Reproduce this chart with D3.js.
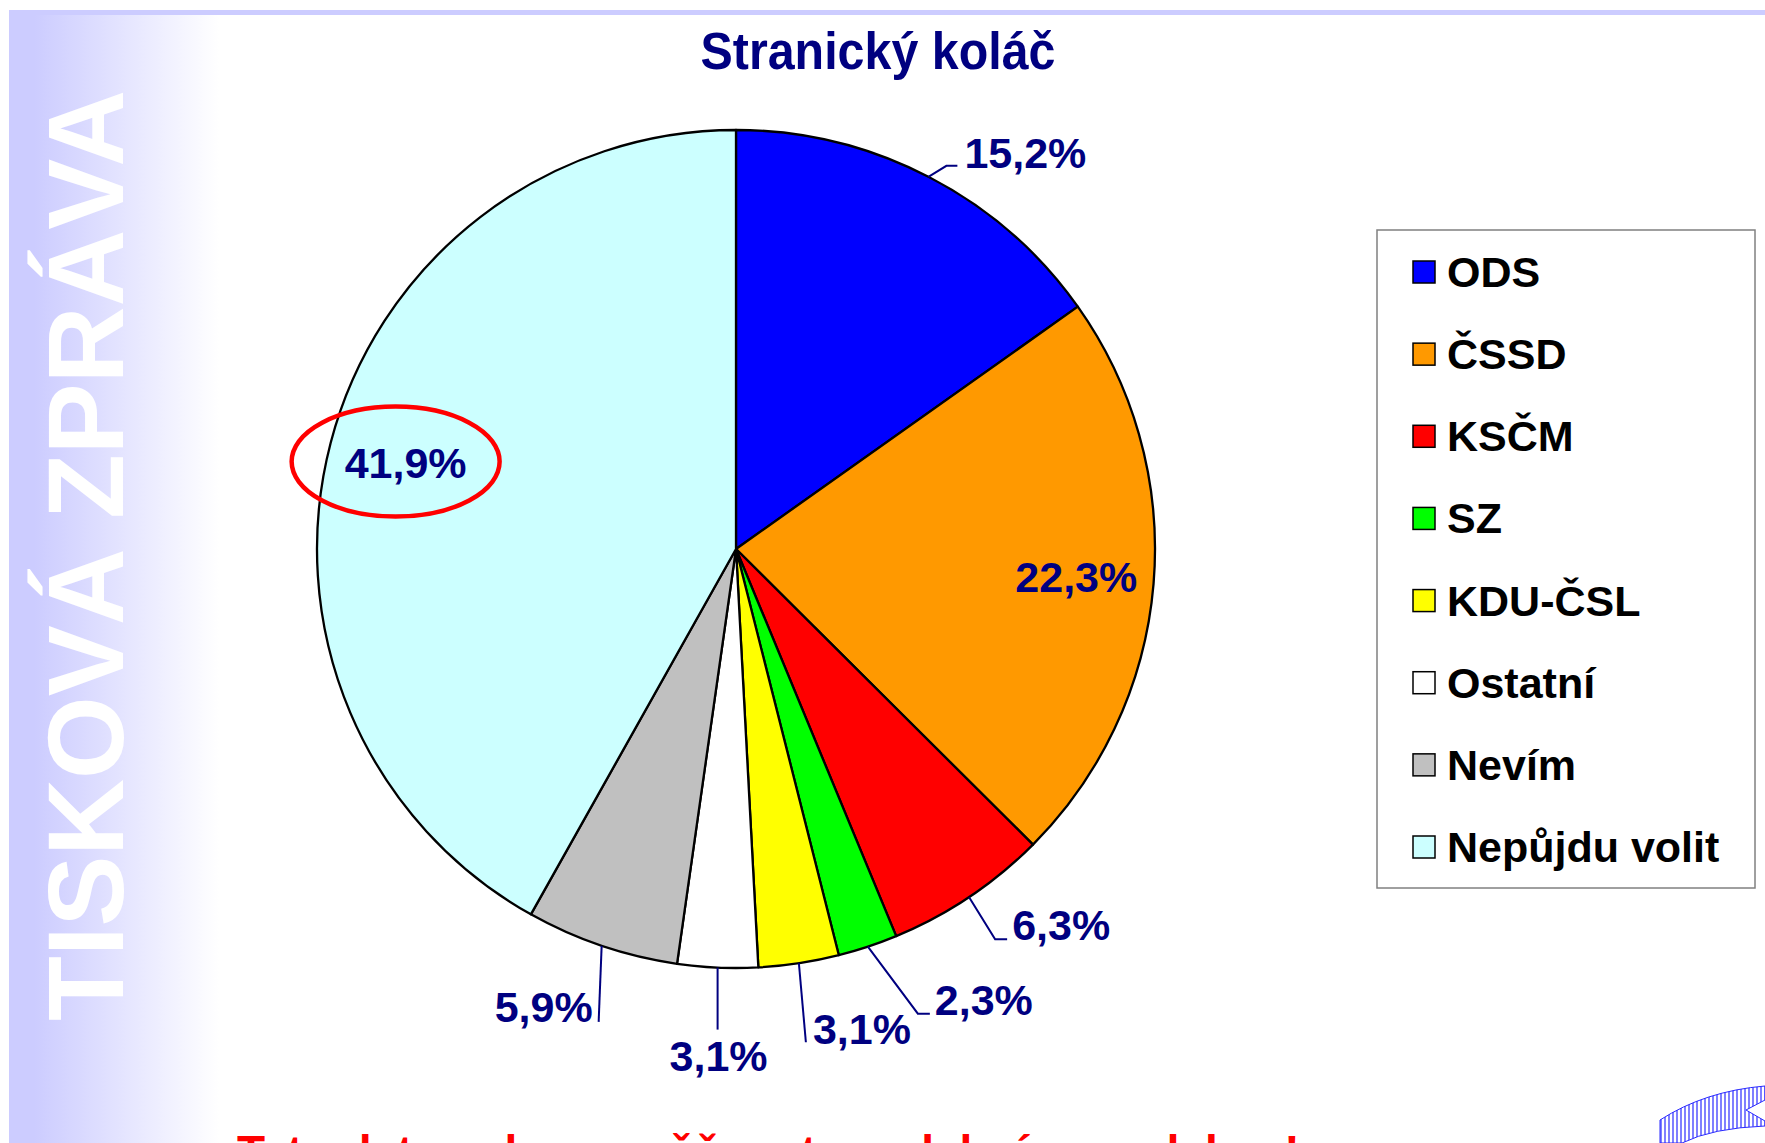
<!DOCTYPE html>
<html>
<head>
<meta charset="utf-8">
<script src="https://cdn.jsdelivr.net/npm/d3@7"></script>
<style>
  html, body { margin: 0; padding: 0; background: #fff; overflow: hidden; }
  text { font-family: "Liberation Sans", Arial, sans-serif; font-weight: bold; }
</style>
</head>
<body>
<svg id="chart"></svg>
<script>
var parties = ['ODS', 'ČSSD', 'KSČM', 'SZ', 'KDU-ČSL', 'Ostatní', 'Nevím', 'Nepůjdu volit'];
var shares = [15.2, 22.3, 6.3, 2.3, 3.1, 3.1, 5.9, 41.9];
var partyColors = ['#0000ff', '#ff9900', '#ff0000', '#00ff00', '#ffff00', '#ffffff', '#c0c0c0', '#ccffff'];
var chartTitle = 'Stranický koláč';
var sideText = 'TISKOVÁ ZPRÁVA';
var noteText = 'Tato data nelze zaměňovat s volebním modelem!';

// how each slice label is placed (offsets from the slice's point on the rim)
var labelLayout = [
    {mode: 'leader', elbow: [18, -11], tail: 11, anchor: 'start', dx: 7, dy: 2},
    {mode: 'inside'},
    {mode: 'leader', elbow: [26, 42], tail: 12, anchor: 'start', dx: 5, dy: 1},
    {mode: 'leader', elbow: [50, 67], tail: 12, anchor: 'start', dx: 5, dy: 1},
    {mode: 'leader', elbow: [7, 79], tail: 0, anchor: 'start', dx: 7, dy: 2},
    {mode: 'leader', elbow: [0, 62], tail: 0, anchor: 'middle', dx: 1, dy: 41},
    {mode: 'leader', elbow: [-3, 76], tail: 0, anchor: 'end', dx: -6, dy: 0},
    {mode: 'inside', ring: true}
];

var W = 1765, H = 1143;
var cx = 736, cy = 549, radius = 419;
var navy = '#000080';

var svg = d3.select('#chart').attr('width', W).attr('height', H);

// background decoration
var defs = svg.append('defs');
var grad = defs.append('linearGradient').attr('id', 'sideGrad')
    .attr('x1', 0).attr('x2', 1).attr('y1', 0).attr('y2', 0);
grad.append('stop').attr('offset', '0%').attr('stop-color', '#ccccff');
grad.append('stop').attr('offset', '12%').attr('stop-color', '#ccccff');
grad.append('stop').attr('offset', '100%').attr('stop-color', '#ffffff');

var pat = defs.append('pattern').attr('id', 'stripes')
    .attr('width', 4).attr('height', 10).attr('patternUnits', 'userSpaceOnUse');
pat.append('rect').attr('width', 4).attr('height', 10).attr('fill', '#fff');
pat.append('line').attr('x1', 1).attr('x2', 1).attr('y1', 0).attr('y2', 10)
    .attr('stroke', '#2a2aff').attr('stroke-width', 1.2);

svg.append('rect').attr('x', 9).attr('y', 10).attr('width', W - 9).attr('height', 5).attr('fill', '#ccccff');
svg.append('rect').attr('x', 9).attr('y', 15).attr('width', 210).attr('height', H - 15).attr('fill', 'url(#sideGrad)');

svg.append('text')
    .attr('transform', 'translate(123,1021) rotate(-90)')
    .attr('font-size', 107)
    .attr('textLength', 931)
    .attr('lengthAdjust', 'spacingAndGlyphs')
    .attr('fill', '#fff')
    .text(sideText);

// logo fragment, bottom right
svg.append('path')
    .attr('d', 'M1660,1143 L1660,1120 Q1705,1091 1765,1086 L1765,1100 L1746,1110 L1765,1121 L1765,1126 Q1712,1128 1682,1143 Z')
    .attr('fill', 'url(#stripes)')
    .attr('stroke', '#2a2aff').attr('stroke-width', 1);

// title
svg.append('text')
    .attr('x', 878).attr('y', 69)
    .attr('text-anchor', 'middle')
    .attr('font-size', 51)
    .attr('textLength', 355)
    .attr('lengthAdjust', 'spacingAndGlyphs')
    .attr('fill', navy)
    .text(chartTitle);

// pie
var data = parties.map(function(p, i) { return {name: p, value: shares[i], color: partyColors[i], layout: labelLayout[i]}; });
var pie = d3.pie().sort(null).value(function(d) { return d.value; });
var arcs = pie(data);
var arc = d3.arc().innerRadius(0).outerRadius(radius);

var g = svg.append('g').attr('transform', 'translate(' + cx + ',' + cy + ')');

g.selectAll('.slice')
    .data(arcs)
    .enter().append('path')
    .attr('class', 'slice')
    .attr('d', arc)
    .attr('fill', function(d) { return d.data.color; })
    .attr('stroke', '#000')
    .attr('stroke-width', 2.3)
    .attr('stroke-linejoin', 'round');

var fmt = function(v) { return d3.format('.1f')(v).replace('.', ',') + '%'; };

arcs.forEach(function(a) {
    var lay = a.data.layout;
    var mid = (a.startAngle + a.endAngle) / 2;
    if (lay.mode === 'inside') {
        var r2 = radius * 0.815;
        var px = r2 * Math.sin(mid), py = -r2 * Math.cos(mid);
        g.append('text')
            .attr('x', px).attr('y', py + 15)
            .attr('text-anchor', 'middle')
            .attr('font-size', 43)
            .attr('fill', navy)
            .text(fmt(a.data.value));
        if (lay.ring) {
            g.append('ellipse')
                .attr('cx', px - 10).attr('cy', py - 1)
                .attr('rx', 104).attr('ry', 55)
                .attr('fill', 'none')
                .attr('stroke', '#ff0000')
                .attr('stroke-width', 4.5);
        }
    } else {
        var ex = radius * Math.sin(mid), ey = -radius * Math.cos(mid);
        var bx = ex + lay.elbow[0], by = ey + lay.elbow[1];
        var tx = bx + lay.tail;
        g.append('polyline')
            .attr('points', [[ex, ey], [bx, by], [tx, by]].join(' '))
            .attr('fill', 'none')
            .attr('stroke', navy)
            .attr('stroke-width', 2);
        g.append('text')
            .attr('x', tx + lay.dx).attr('y', by + lay.dy)
            .attr('text-anchor', lay.anchor)
            .attr('font-size', 43)
            .attr('fill', navy)
            .text(fmt(a.data.value));
    }
});

// legend
var legend = svg.append('g').attr('transform', 'translate(1377,230)');
legend.append('rect')
    .attr('width', 378).attr('height', 658)
    .attr('fill', '#fff')
    .attr('stroke', '#808080')
    .attr('stroke-width', 1.5);

var rowY = d3.scalePoint().domain(parties).range([42, 617]);

var items = legend.selectAll('.item')
    .data(data)
    .enter().append('g')
    .attr('class', 'item')
    .attr('transform', function(d) { return 'translate(0,' + rowY(d.name) + ')'; });

items.append('rect')
    .attr('x', 36).attr('y', -11)
    .attr('width', 22).attr('height', 22)
    .attr('fill', function(d) { return d.color; })
    .attr('stroke', '#000')
    .attr('stroke-width', 1.5);

items.append('text')
    .attr('x', 70).attr('y', 15)
    .attr('font-size', 43)
    .attr('fill', '#000')
    .text(function(d) { return d.name; });

// red note, cut off at the bottom edge as in the slide
svg.append('text')
    .attr('x', 237).attr('y', 1168)
    .attr('font-size', 46)
    .attr('fill', '#ff0000')
    .text(noteText);
</script>
</body>
</html>
